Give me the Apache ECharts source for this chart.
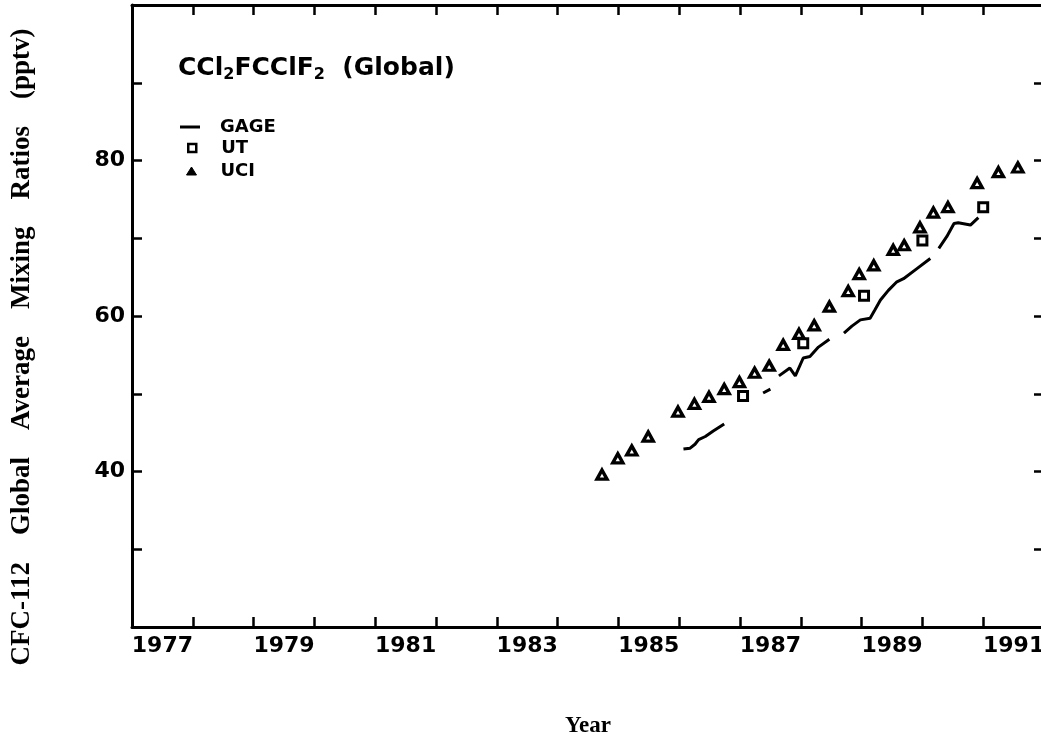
<!DOCTYPE html>
<html>
<head>
<meta charset="utf-8">
<script src="https://cdn.jsdelivr.net/npm/echarts@6/dist/echarts.min.js"></script>
<style>
  html, body { margin: 0; padding: 0; background: #fff; }
  #chart { width: 1041px; height: 738px; }
</style>
</head>
<body>
<div id="chart"></div>
<script>
// ---- data ----
const yearBands = ['1977','1978','1979','1980','1981','1982','1983','1984','1985','1986','1987','1988','1989','1990','1991'];
const xTickLabels = ['1977','1979','1981','1983','1985','1987','1989','1991'];
const yTickLabels = [40, 60, 80];

const uciYears  = [1984.73,1984.99,1985.22,1985.49,1985.98,1986.25,1986.49,1986.74,1986.99,1987.24,1987.48,1987.71,1987.97,1988.22,1988.47,1988.78,1988.96,1989.20,1989.52,1989.70,1989.96,1990.18,1990.42,1990.90,1991.25,1991.57];
const uciValues = [39.6,41.7,42.7,44.5,47.7,48.7,49.6,50.6,51.5,52.7,53.6,56.3,57.7,58.8,61.2,63.2,65.4,66.5,68.5,69.1,71.4,73.3,74.0,77.1,78.5,79.1];

const utYears  = [1987.05,1988.04,1989.04,1990.00,1991.00];
const utValues = [49.7,56.5,62.6,69.7,74.0];

// GAGE record; null marks a gap in the record
const gageYears  = [1986.07,1986.18,1986.26,1986.32,1986.43,1986.56,1986.74,null,
                    1987.38,1987.50,null,
                    1987.64,1987.82,1987.91,1988.04,1988.15,1988.29,1988.47,null,
                    1988.71,1988.84,1988.98,1989.14,1989.22,1989.31,1989.44,1989.58,1989.69,1989.91,1990.13,null,
                    1990.27,1990.40,1990.52,1990.59,1990.79,1990.92];
const gageValues = [42.9,43.0,43.5,44.1,44.5,45.2,46.1,null,
                    50.1,50.6,null,
                    52.3,53.3,52.3,54.6,54.8,56.0,57.0,null,
                    57.8,58.7,59.5,59.7,60.8,62.05,63.3,64.4,64.8,66.1,67.4,null,
                    68.7,70.2,71.9,72.0,71.7,72.65];

// ---- build series ----
function pairs(xs, ys) { return xs.map((x, i) => [x, ys[i]]); }
const gageSegments = [];
let cur = [];
gageYears.forEach((x, i) => {
  if (x === null) { if (cur.length) gageSegments.push(cur); cur = []; }
  else cur.push([x, gageValues[i]]);
});
if (cur.length) gageSegments.push(cur);

const BOLD_SANS = 'DejaVu Sans';
const series = gageSegments.map(seg => ({
  name: 'GAGE', type: 'line', xAxisIndex: 0, yAxisIndex: 0,
  data: seg, symbol: 'none', smooth: false,
  lineStyle: { color: '#000', width: 3 }, itemStyle: { color: '#000' },
  z: 3
}));
series.push({
  name: 'UT', type: 'scatter', xAxisIndex: 0, yAxisIndex: 0,
  data: pairs(utYears, utValues), symbol: 'rect', symbolSize: 9,
  itemStyle: { color: '#fff', borderColor: '#000', borderWidth: 3, opacity: 1 }, z: 4
});
series.push({
  name: 'UCI', type: 'scatter', xAxisIndex: 0, yAxisIndex: 0,
  data: pairs(uciYears, uciValues), symbol: 'triangle', symbolSize: [10, 9],
  itemStyle: { color: '#fff', borderColor: '#000', borderWidth: 3.4, opacity: 1 }, z: 4
});

const axisLine = { show: true, onZero: false, lineStyle: { color: '#000', width: 3 } };
const inTick = { show: true, inside: true, length: 10, lineStyle: { color: '#000', width: 2.5 } };
const legendText = { fontFamily: BOLD_SANS, fontWeight: 'bold', fontSize: 18, color: '#000' };

const chart = echarts.init(document.getElementById('chart'), null, { renderer: 'canvas' });
chart.setOption({
  backgroundColor: '#fff',
  animation: false,
  grid: { left: 132, top: 5, width: 912, height: 622, outerBoundsMode: 'none', containLabel: false },
  title: {
    left: 173, top: 48,
    text: '{a|CCl}{s|2}{a|FCClF}{s|2}{a|  (Global)}',
    textStyle: {
      rich: {
        a: { fontFamily: BOLD_SANS, fontWeight: 'bold', fontSize: 25, color: '#000', lineHeight: 30 },
        s: { fontFamily: BOLD_SANS, fontWeight: 'bold', fontSize: 16, color: '#000', lineHeight: 16, verticalAlign: 'bottom' }
      }
    }
  },
  legend: [
    {
      left: 175, top: 113, itemWidth: 20, itemHeight: 3,
      data: [{ name: 'GAGE', icon: 'rect', itemStyle: { color: '#000', borderWidth: 0 } }],
      textStyle: Object.assign({ padding: [0, 0, 0, 15] }, legendText)
    },
    {
      left: 182, top: 134, itemWidth: 8, itemHeight: 8,
      data: [{ name: 'UT', icon: 'rect', itemStyle: { color: '#fff', borderColor: '#000', borderWidth: 2.5 } }],
      textStyle: Object.assign({ padding: [0, 0, 0, 20] }, legendText)
    },
    {
      left: 181, top: 157, itemWidth: 10, itemHeight: 8,
      data: [{ name: 'UCI', icon: 'triangle', itemStyle: { color: '#000', borderColor: '#000', borderWidth: 1 } }],
      textStyle: Object.assign({ padding: [0, 0, 0, 19] }, legendText)
    }
  ],
  xAxis: [
    {
      type: 'value', position: 'bottom', min: 1977, max: 1992, interval: 1,
      axisLine, axisTick: inTick, axisLabel: { show: false }, splitLine: { show: false },
      name: 'Year', nameLocation: 'middle', nameGap: 88,
      nameTextStyle: { fontFamily: 'Liberation Serif', fontWeight: 'bold', fontSize: 23, color: '#000' }
    },
    {
      type: 'value', position: 'top', min: 1977, max: 1992, interval: 1,
      axisLine, axisTick: inTick, axisLabel: { show: false }, splitLine: { show: false }
    },
    {
      type: 'category', position: 'bottom', data: yearBands, boundaryGap: true,
      axisLine: { show: false }, axisTick: { show: false }, splitLine: { show: false },
      axisLabel: {
        interval: 0, margin: 8, color: '#000',
        fontFamily: BOLD_SANS, fontWeight: 'bold', fontSize: 22,
        formatter: v => xTickLabels.includes(v) ? v : ''
      }
    }
  ],
  yAxis: [
    {
      type: 'value', position: 'left', min: 20, max: 100, interval: 10,
      axisLine, axisTick: inTick, splitLine: { show: false },
      axisLabel: {
        margin: 7, color: '#000', fontFamily: BOLD_SANS, fontWeight: 'bold', fontSize: 22,
        formatter: v => yTickLabels.includes(v) ? String(v) : ''
      }
    },
    {
      type: 'value', position: 'right', min: 20, max: 100, interval: 10,
      axisLine, axisTick: inTick, axisLabel: { show: false }, splitLine: { show: false }
    }
  ],
  graphic: [{
    type: 'text', x: 22, y: 347, rotation: Math.PI / 2,
    style: {
      text: 'CFC-112    Global    Average    Mixing    Ratios    (pptv)',
      fontFamily: 'Liberation Serif', fontWeight: 'bold', fontSize: 27, fill: '#000',
      align: 'center', verticalAlign: 'middle'
    }
  }],
  series
});
</script>
</body>
</html>
